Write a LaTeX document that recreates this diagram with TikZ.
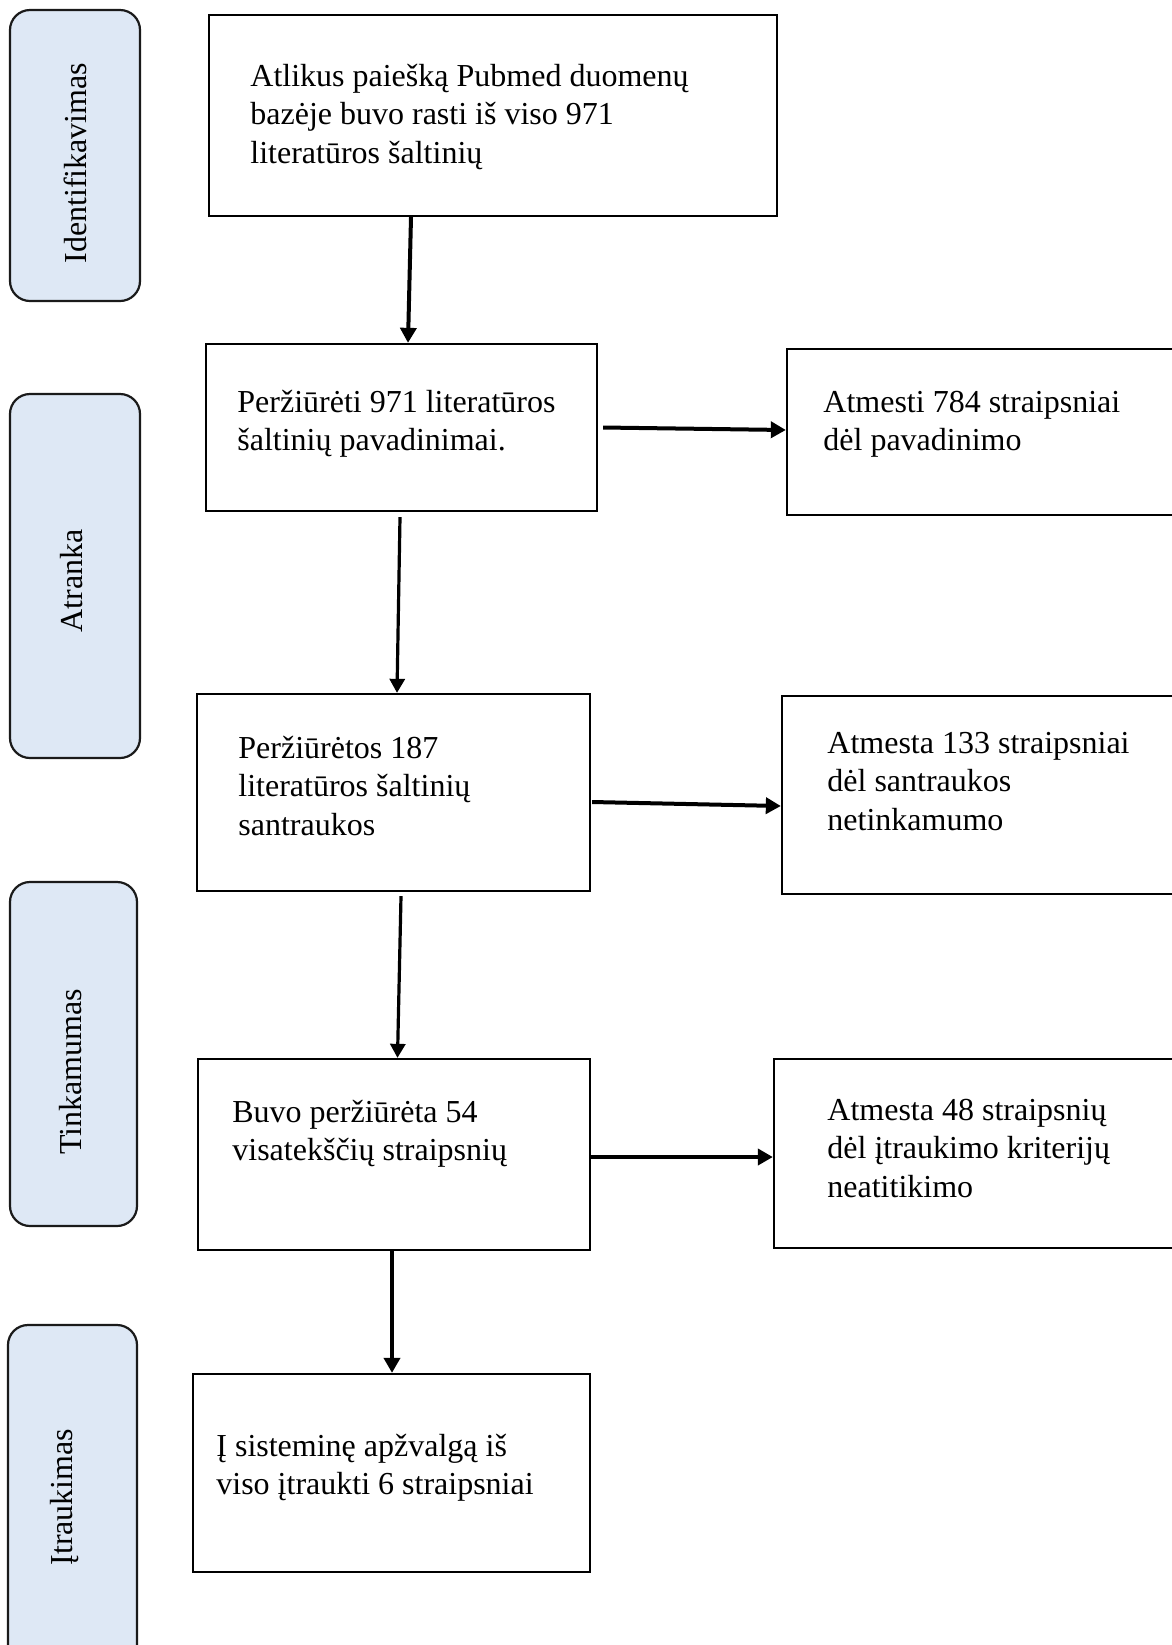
\documentclass[tikz,border=0pt]{standalone}
\usepackage{fontspec}
\setmainfont{Liberation Serif}
\usetikzlibrary{arrows.meta,calc}
\definecolor{lblfill}{HTML}{DEE8F5}
\definecolor{lbldraw}{HTML}{1A1A1A}
\newcommand{\mylines}[1]{\begin{tabular}[t]{@{}l@{}}#1\end{tabular}}
\begin{document}
\begin{tikzpicture}[x=0.5pt,y=-0.5pt,
  flowbox/.style={draw=black,line width=1.15pt,rectangle,inner sep=0pt},
  lblbox/.style={draw=lbldraw,fill=lblfill,line width=1.1pt,rectangle,rounded corners=10pt,inner sep=0pt},
  boxtext/.style={anchor=base west,inner sep=0pt,font=\fontsize{16pt}{19.3pt}\selectfont},
  lbltext/.style={anchor=base,inner sep=0pt,rotate=90,font=\fontsize{16pt}{19.3pt}\selectfont},
  arr/.style={line width=2pt,-{Triangle[length=7.5pt,width=8pt]}},
  thinarr/.style={line width=1.6pt,-{Triangle[length=7pt,width=7.5pt]}}
]
\clip (0,0) rectangle (1172,1645);
\fill[white] (0,0) rectangle (1172,1645);

% left labels
\node[lblbox,minimum width=65pt,minimum height=145.5pt] (l1) at (75,155.5) {};
\node[lblbox,minimum width=65pt,minimum height=182pt] (l2) at (75,576) {};
\node[lblbox,minimum width=63.5pt,minimum height=172pt] (l3) at (73.5,1054) {};
\node[lblbox,minimum width=64.5pt,minimum height=177.5pt] (l4) at (72.5,1502.5) {};
\node[lbltext] (l1t) at (86,163) {Identifikavimas};
\node[lbltext] (l2t) at (82,581) {Atranka};
\node[lbltext] (l3t) at (81,1072) {Tinkamumas};
\node[lbltext] (l4t) at (72,1497) {Įtraukimas};

% main boxes
\node[flowbox,minimum width=284pt,minimum height=100.5pt] (b1) at (493,115.5) {};
\node[flowbox,minimum width=195.5pt,minimum height=83.5pt] (b2) at (401.5,427.5) {};
\node[flowbox,minimum width=196.5pt,minimum height=98.5pt] (b3) at (393.5,792.5) {};
\node[flowbox,minimum width=196pt,minimum height=95.5pt] (b4) at (394,1154.5) {};
\node[flowbox,minimum width=198.5pt,minimum height=99pt] (b5) at (391.5,1473) {};

% right boxes
\node[flowbox,minimum width=201.5pt,minimum height=83pt] (r1) at (988.5,432) {};
\node[flowbox,minimum width=204pt,minimum height=99pt] (r2) at (986,795) {};
\node[flowbox,minimum width=208pt,minimum height=94.5pt] (r3) at (982,1153.5) {};

% texts
\node[boxtext] (b1t) at (250,86) {\mylines{Atlikus paiešką Pubmed duomenų\\bazėje buvo rasti iš viso 971\\literatūros šaltinių}};
\node[boxtext] (b2t) at (237,412) {\mylines{Peržiūrėti 971 literatūros\\šaltinių pavadinimai.}};
\node[boxtext] (b3t) at (238,758) {\mylines{Peržiūrėtos 187\\literatūros šaltinių\\santraukos}};
\node[boxtext] (b4t) at (232,1122) {\mylines{Buvo peržiūrėta 54\\visatekščių straipsnių}};
\node[boxtext] (b5t) at (216,1456) {\mylines{Į sisteminę apžvalgą iš\\viso įtraukti 6 straipsniai}};
\node[boxtext] (r1t) at (823,412) {\mylines{Atmesti 784 straipsniai\\dėl pavadinimo}};
\node[boxtext] (r2t) at (827,753) {\mylines{Atmesta 133 straipsniai\\dėl santraukos\\netinkamumo}};
\node[boxtext] (r3t) at (827,1120) {\mylines{Atmesta 48 straipsnių\\dėl įtraukimo kriterijų\\neatitikimo}};

% vertical arrows
\draw[arr] ([xshift=-41pt]b1.south) -- ([xshift=3.25pt]b2.north);
\draw[thinarr] ([xshift=-0.75pt,yshift=-2.5pt]b2.south) -- ([xshift=1.75pt]b3.north);
\draw[thinarr] ([xshift=3.75pt,yshift=-2pt]b3.south) -- ([xshift=1.75pt]b4.north);
\draw[arr] ([xshift=-1pt]b4.south) -- ([xshift=0.25pt]b5.north);

% horizontal arrows
\draw[arr] ([xshift=2.5pt]b2.east) -- ([yshift=1pt]r1.west);
\draw[arr] ([xshift=0.5pt,yshift=-4.75pt]b3.east) -- ([yshift=-5.5pt]r2.west);
\draw[arr] ([yshift=-1.25pt]b4.east) -- ([yshift=-1.75pt]r3.west);
\end{tikzpicture}
\end{document}
